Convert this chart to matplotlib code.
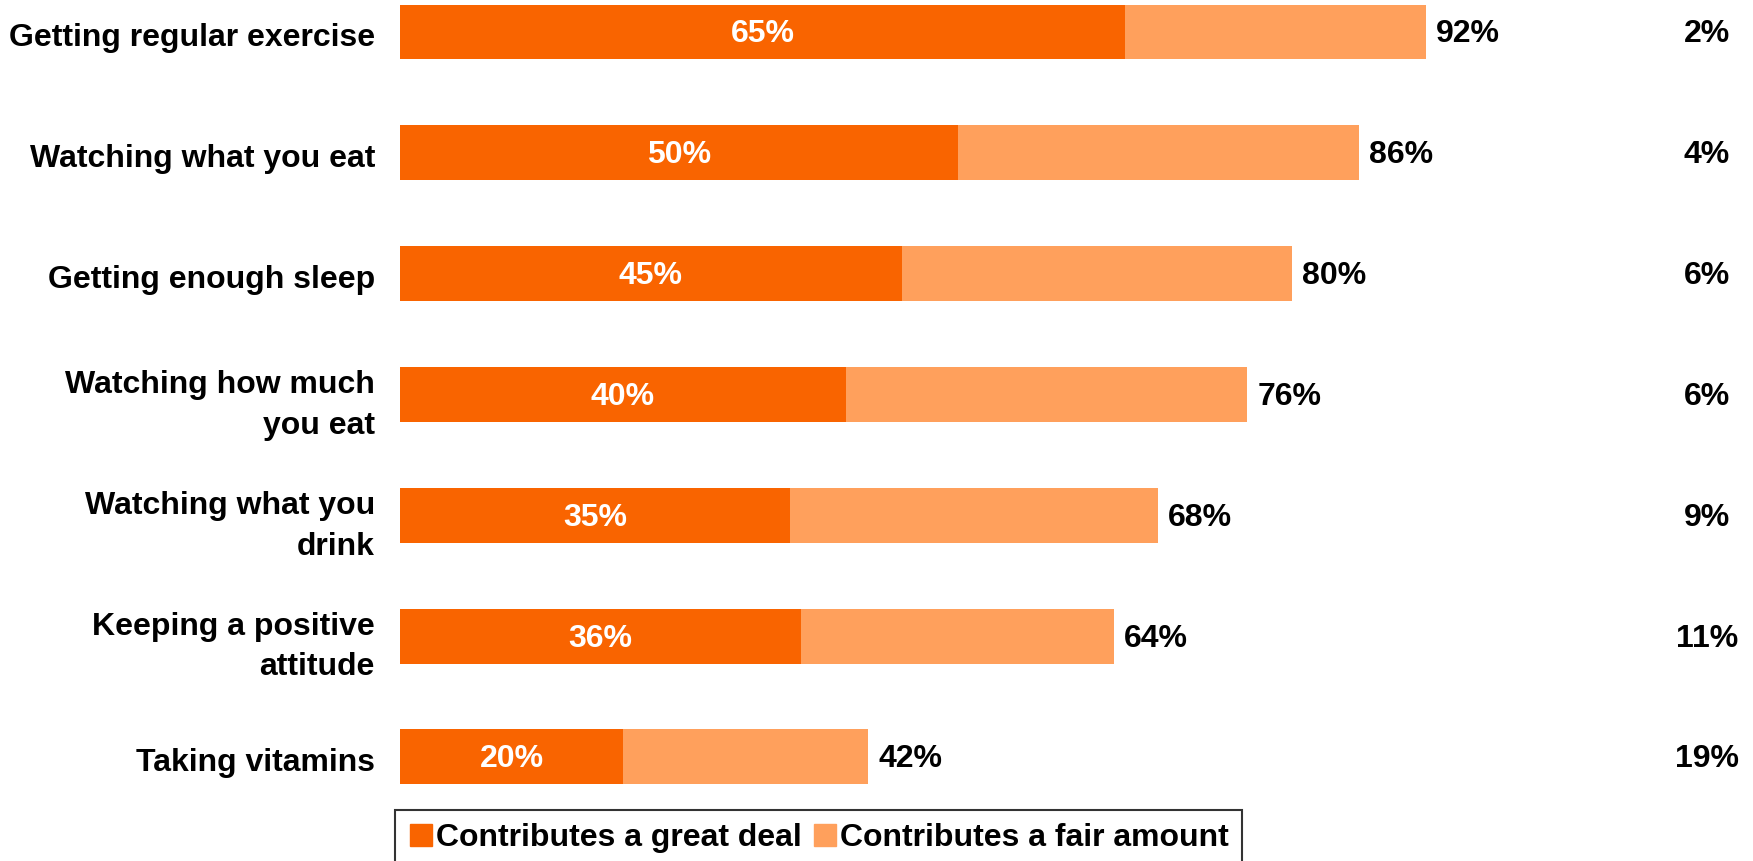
import matplotlib
matplotlib.use("Agg")
import matplotlib.pyplot as plt
from matplotlib.lines import Line2D

plt.rcParams['font.family'] = ['Liberation Sans', 'DejaVu Sans']
plt.rcParams['font.weight'] = 'bold'

categories = ["Getting regular exercise", "Watching what you eat", "Getting enough sleep",
              "Watching how much\nyou eat", "Watching what you\ndrink",
              "Keeping a positive\nattitude", "Taking vitamins"]
great_deal = [65, 50, 45, 40, 35, 36, 20]
total = [92, 86, 80, 76, 68, 64, 42]
right_col = ["2%", "4%", "6%", "6%", "9%", "11%", "19%"]

dark = "#F96400"
light = "#FFA05C"
fs = 23

W, H = 1753, 861
fig = plt.figure(figsize=(W / 100, H / 100), dpi=100)
ax = fig.add_axes([400 / W, 0, 1 - 400 / W, 1])

px = 11.15  # pixels per percent
ax.set_xlim(0, (W - 400) / px)
step = 120.8
ax.set_ylim(6 + (H - 757) / step, -32 / step)

y = list(range(len(categories)))
fair = [t - g for t, g in zip(total, great_deal)]
ax.barh(y, great_deal, height=0.455, color=dark, label="Contributes a great deal")
ax.barh(y, fair, left=great_deal, height=0.455, color=light, label="Contributes a fair amount")

for i in y:
    ax.text(great_deal[i] / 2, i + 0.02, f"{great_deal[i]}%", color="white", ha="center", va="center",
            fontsize=fs, fontweight="bold")
    ax.text(total[i] + 0.9, i + 0.02, f"{total[i]}%", color="black", ha="left", va="center",
            fontsize=fs, fontweight="bold")
    ax.text((1707 - 400) / px, i + 0.02, right_col[i], color="black", ha="center", va="center",
            fontsize=fs, fontweight="bold")

ax.set_yticks([i + 0.02 for i in y])
ax.set_yticklabels(categories, fontsize=fs, fontweight="bold", ha="right", linespacing=1.45)
ax.tick_params(axis="y", length=0, pad=18)
ax.set_xticks([])
for s in ax.spines.values():
    s.set_visible(False)

handles = [Line2D([], [], marker="s", linestyle="none", markersize=16, color=dark),
           Line2D([], [], marker="s", linestyle="none", markersize=16, color=light)]
leg = fig.legend(handles, ["Contributes a great deal", "Contributes a fair amount"],
                 loc="upper left", bbox_to_anchor=(395 / W, 1 - 810 / H), ncol=2,
                 fontsize=fs, frameon=True, fancybox=False, handletextpad=0.05,
                 columnspacing=0.35, handlelength=0.8, borderpad=0.42, borderaxespad=0)
leg.get_frame().set_edgecolor("black")
leg.get_frame().set_linewidth(1.5)

fig.savefig("out.png", dpi=100)
